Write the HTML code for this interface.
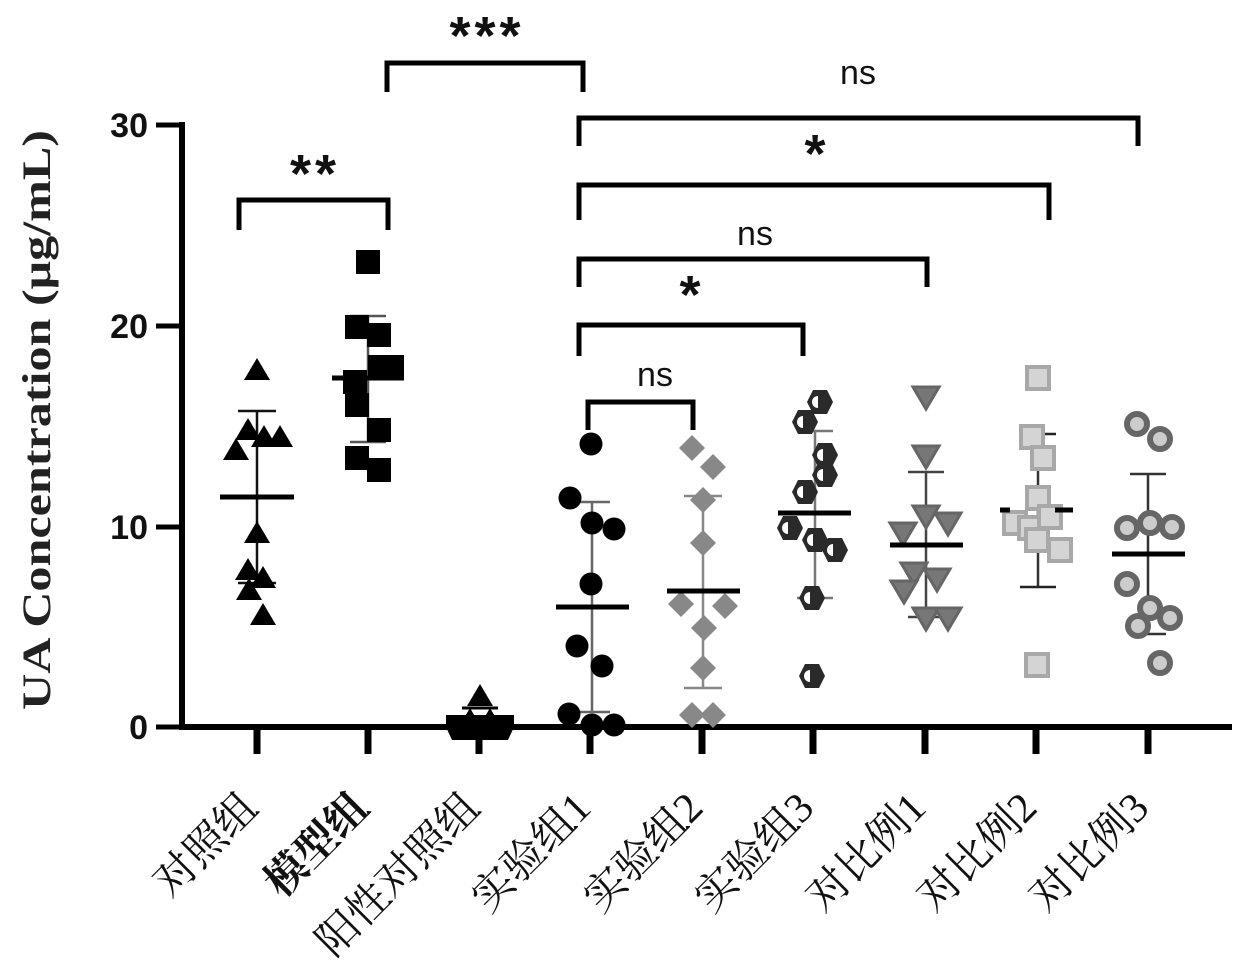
<!DOCTYPE html>
<html><head><meta charset="utf-8"><style>html,body{margin:0;padding:0;background:#fff}svg{display:block}</style></head>
<body>
<svg width="1243" height="979" viewBox="0 0 1243 979" xmlns="http://www.w3.org/2000/svg">
<defs>
<polygon id="tri" points="0,-12 13,10 -13,10" fill="#000"/>
<rect id="sq" x="-12" y="-12" width="24" height="24" fill="#000"/>
<circle id="cir" r="11.5" fill="#000"/>
<polygon id="dia" points="0,-13 13,0 0,13 -13,0" fill="#888"/>
<g id="hex"><polygon points="-13,0 -7,-12 7,-12 13,0 7,12 -7,12" fill="#2a2a2a"/><path d="M-2,-6 A6,6 0 0 0 -2,6 Z" fill="#fff"/></g>
<polygon id="itri" points="-13,-10 13,-10 0,12" fill="#777" stroke="#666" stroke-width="3"/>
<rect id="lsq" x="-11" y="-11" width="22" height="22" fill="#d4d4d4" stroke="#a8a8a8" stroke-width="4"/>
<circle id="ocir" r="10" fill="#ccc" stroke="#666" stroke-width="6"/>
</defs>
<g font-family="Liberation Sans, sans-serif" font-weight="bold">
<line x1="182" y1="122" x2="182" y2="730" stroke="#000" stroke-width="6"/>
<line x1="179" y1="727" x2="1232" y2="727" stroke="#000" stroke-width="6"/>
<g stroke="#000" stroke-width="5">
<line x1="156" y1="125" x2="182" y2="125"/><line x1="156" y1="326" x2="182" y2="326"/>
<line x1="156" y1="527" x2="182" y2="527"/><line x1="156" y1="727" x2="182" y2="727"/>
</g>
<g stroke="#000" stroke-width="7">
<line x1="257" y1="727" x2="257" y2="754"/><line x1="368" y1="727" x2="368" y2="754"/>
<line x1="479" y1="727" x2="479" y2="754"/><line x1="590" y1="727" x2="590" y2="754"/>
<line x1="702" y1="727" x2="702" y2="754"/><line x1="813" y1="727" x2="813" y2="754"/>
<line x1="925" y1="727" x2="925" y2="754"/><line x1="1036" y1="727" x2="1036" y2="754"/>
<line x1="1148" y1="727" x2="1148" y2="754"/>
</g>
<g font-size="34" text-anchor="end" fill="#111">
<text x="148" y="137">30</text><text x="148" y="338">20</text><text x="148" y="539">10</text><text x="148" y="739">0</text>
</g>
<text transform="translate(50,420) rotate(-90)" text-anchor="middle" font-family="Liberation Serif, serif" font-size="40" textLength="580" lengthAdjust="spacingAndGlyphs" fill="#222">UA Concentration (μg/mL)</text>

<g fill="none" stroke="#000" stroke-width="5">
<polyline points="239,230 239,200 388,200 388,230"/>
<polyline points="387,92 387,63 583,63 583,92"/>
<polyline points="579,146 579,118 1138,118 1138,146"/>
<polyline points="579,220 579,185 1049,185 1049,220"/>
<polyline points="579,287 579,259 927,259 927,287"/>
<polyline points="579,356 579,325 803,325 803,356"/>
<polyline points="588,430 588,402 693,402 693,430"/>
</g>
<g font-size="54" text-anchor="middle" fill="#111" letter-spacing="4">
<text x="315" y="192">**</text>
<text x="487" y="54">***</text>
<text x="817" y="172">*</text>
<text x="692" y="313">*</text>
</g>
<g font-size="34" font-weight="normal" text-anchor="middle" fill="#111">
<text x="858" y="84">ns</text>
<text x="755" y="245">ns</text>
<text x="655" y="386">ns</text>
</g>

<g>
<line x1="257" y1="411" x2="257" y2="583" stroke="#111" stroke-width="2.5"/>
<line x1="238" y1="411" x2="276" y2="411" stroke="#111" stroke-width="2.5"/>
<line x1="238" y1="583" x2="276" y2="583" stroke="#111" stroke-width="2.5"/>
<use href="#tri" x="257" y="370"/><use href="#tri" x="248" y="430"/><use href="#tri" x="264" y="437"/>
<use href="#tri" x="280" y="437"/><use href="#tri" x="236" y="450"/><use href="#tri" x="257" y="533"/>
<use href="#tri" x="248" y="570"/><use href="#tri" x="263" y="578"/><use href="#tri" x="249" y="590"/><use href="#tri" x="263" y="615"/>
<line x1="220" y1="497" x2="294" y2="497" stroke="#000" stroke-width="5"/>
</g>
<g>
<line x1="368" y1="316" x2="368" y2="442" stroke="#555" stroke-width="2.5"/>
<line x1="350" y1="316" x2="386" y2="316" stroke="#555" stroke-width="2.5"/>
<line x1="350" y1="442" x2="386" y2="442" stroke="#555" stroke-width="2.5"/>
<use href="#sq" x="368" y="262"/><use href="#sq" x="357" y="327"/><use href="#sq" x="379" y="335"/>
<use href="#sq" x="380" y="367"/><use href="#sq" x="392" y="367"/><use href="#sq" x="355" y="382"/>
<use href="#sq" x="357" y="405"/><use href="#sq" x="379" y="430"/><use href="#sq" x="357" y="458"/><use href="#sq" x="379" y="470"/>
<line x1="332" y1="378" x2="404" y2="378" stroke="#000" stroke-width="5"/>
</g>
<g>
<use href="#tri" x="480" y="696"/>
<line x1="462" y1="708" x2="498" y2="708" stroke="#000" stroke-width="3"/>
<use href="#tri" x="470" y="720"/><use href="#tri" x="490" y="720"/>
<rect x="446" y="715" width="68" height="12" fill="#000"/>
<polygon points="446,727 514,727 508,740 452,740" fill="#000"/>
</g>
<g>
<line x1="592" y1="502" x2="592" y2="712" stroke="#666" stroke-width="2.5"/>
<line x1="574" y1="502" x2="610" y2="502" stroke="#666" stroke-width="2.5"/>
<line x1="574" y1="712" x2="610" y2="712" stroke="#666" stroke-width="2.5"/>
<use href="#cir" x="591" y="444"/><use href="#cir" x="570" y="498"/><use href="#cir" x="592" y="523"/>
<use href="#cir" x="614" y="529"/><use href="#cir" x="591" y="584"/><use href="#cir" x="577" y="646"/>
<use href="#cir" x="602" y="666"/><use href="#cir" x="569" y="714"/><use href="#cir" x="592" y="725"/><use href="#cir" x="614" y="725"/>
<line x1="556" y1="607" x2="629" y2="607" stroke="#000" stroke-width="5"/>
</g>
<g>
<line x1="703" y1="496" x2="703" y2="688" stroke="#888" stroke-width="2.5"/>
<line x1="684" y1="496" x2="722" y2="496" stroke="#888" stroke-width="2.5"/>
<line x1="684" y1="688" x2="722" y2="688" stroke="#888" stroke-width="2.5"/>
<use href="#dia" x="692" y="448"/><use href="#dia" x="713" y="467"/><use href="#dia" x="703" y="500"/>
<use href="#dia" x="703" y="543"/><use href="#dia" x="681" y="604"/><use href="#dia" x="725" y="606"/>
<use href="#dia" x="704" y="628"/><use href="#dia" x="703" y="668"/><use href="#dia" x="692" y="715"/><use href="#dia" x="713" y="715"/>
<line x1="667" y1="591" x2="740" y2="591" stroke="#000" stroke-width="5"/>
</g>
<g>
<line x1="815" y1="431" x2="815" y2="598" stroke="#777" stroke-width="2.5"/>
<line x1="797" y1="431" x2="833" y2="431" stroke="#777" stroke-width="2.5"/>
<line x1="797" y1="598" x2="833" y2="598" stroke="#777" stroke-width="2.5"/>
<use href="#hex" x="820" y="402"/><use href="#hex" x="805" y="422"/><use href="#hex" x="825" y="455"/>
<use href="#hex" x="825" y="475"/><use href="#hex" x="805" y="492"/><use href="#hex" x="790" y="528"/>
<use href="#hex" x="815" y="540"/><use href="#hex" x="835" y="550"/><use href="#hex" x="812" y="598"/><use href="#hex" x="812" y="676"/>
<line x1="778" y1="513" x2="851" y2="513" stroke="#000" stroke-width="5"/>
</g>
<g>
<line x1="926" y1="472" x2="926" y2="617" stroke="#444" stroke-width="2.5"/>
<line x1="908" y1="472" x2="944" y2="472" stroke="#444" stroke-width="2.5"/>
<line x1="908" y1="617" x2="944" y2="617" stroke="#444" stroke-width="2.5"/>
<use href="#itri" x="926" y="397"/><use href="#itri" x="926" y="456"/><use href="#itri" x="926" y="516"/>
<use href="#itri" x="948" y="523"/><use href="#itri" x="903" y="533"/><use href="#itri" x="914" y="573"/>
<use href="#itri" x="937" y="579"/><use href="#itri" x="904" y="591"/><use href="#itri" x="926" y="618"/><use href="#itri" x="948" y="618"/>
<line x1="890" y1="545" x2="963" y2="545" stroke="#000" stroke-width="5"/>
</g>
<g>
<line x1="1038" y1="434" x2="1038" y2="587" stroke="#333" stroke-width="2.5"/>
<line x1="1020" y1="434" x2="1056" y2="434" stroke="#222" stroke-width="2.5"/>
<line x1="1020" y1="587" x2="1056" y2="587" stroke="#222" stroke-width="2.5"/>
<use href="#lsq" x="1038" y="378"/><use href="#lsq" x="1032" y="437"/><use href="#lsq" x="1043" y="458"/>
<use href="#lsq" x="1038" y="498"/><use href="#lsq" x="1015" y="523"/><use href="#lsq" x="1030" y="528"/>
<use href="#lsq" x="1050" y="517"/><use href="#lsq" x="1037" y="540"/><use href="#lsq" x="1060" y="550"/><use href="#lsq" x="1037" y="665"/>
<line x1="1000" y1="510" x2="1073" y2="510" stroke="#000" stroke-width="5" stroke-dasharray="10 45 18 0"/>
</g>
<g>
<line x1="1148" y1="474" x2="1148" y2="634" stroke="#333" stroke-width="2.5"/>
<line x1="1130" y1="474" x2="1166" y2="474" stroke="#333" stroke-width="2.5"/>
<line x1="1130" y1="634" x2="1166" y2="634" stroke="#333" stroke-width="2.5"/>
<use href="#ocir" x="1137" y="424"/><use href="#ocir" x="1160" y="439"/><use href="#ocir" x="1127" y="528"/>
<use href="#ocir" x="1150" y="523"/><use href="#ocir" x="1172" y="527"/><use href="#ocir" x="1127" y="584"/>
<use href="#ocir" x="1150" y="608"/><use href="#ocir" x="1170" y="618"/><use href="#ocir" x="1138" y="626"/><use href="#ocir" x="1160" y="663"/>
<line x1="1112" y1="554" x2="1185" y2="554" stroke="#000" stroke-width="5"/>
</g>
</g>

<g font-family="Liberation Serif, 'Noto Serif CJK SC', serif" font-size="42" text-anchor="end" fill="#111">
<text transform="translate(260,810) rotate(-45)">对照组</text>
<text transform="translate(371,810) rotate(-45)" font-weight="bold">模型组</text>
<text transform="translate(482,810) rotate(-45)">阳性对照组</text>
<text transform="translate(593,810) rotate(-45)">实验组1</text>
<text transform="translate(705,810) rotate(-45)">实验组2</text>
<text transform="translate(816,810) rotate(-45)">实验组3</text>
<text transform="translate(928,810) rotate(-45)">对比例1</text>
<text transform="translate(1039,810) rotate(-45)">对比例2</text>
<text transform="translate(1151,810) rotate(-45)">对比例3</text>
</g>
</svg>
</body></html>
